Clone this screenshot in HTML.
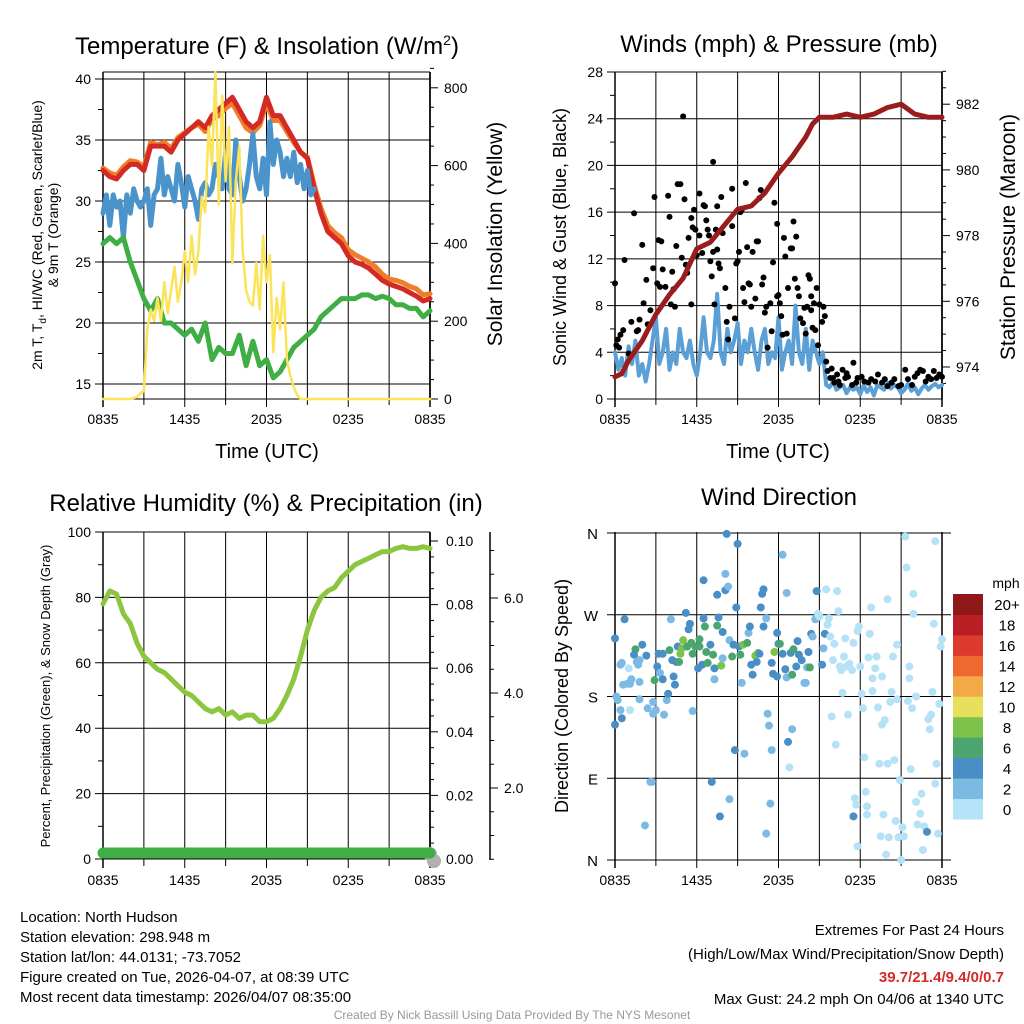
<!DOCTYPE html>
<html><head><meta charset="utf-8"><style>
html,body{margin:0;padding:0;background:#fff}
svg{display:block;font-family:"Liberation Sans",Arial,sans-serif}
</style></head><body>
<svg id="chart" width="1024" height="1024" viewBox="0 0 1024 1024" xmlns="http://www.w3.org/2000/svg">
<rect x="0" y="0" width="1024" height="1024" fill="#fff"/>
<text x="267" y="54" font-size="24" text-anchor="middle">Temperature (F) &amp; Insolation (W/m<tspan dy="-9" font-size="14">2</tspan><tspan dy="9">)</tspan></text>
<text x="779" y="52" font-size="24" text-anchor="middle">Winds (mph) &amp; Pressure (mb)</text>
<text x="266" y="511" font-size="24" text-anchor="middle">Relative Humidity (%) &amp; Precipitation (in)</text>
<text x="779" y="505" font-size="24" text-anchor="middle">Wind Direction</text>
<text x="267" y="458" font-size="20" text-anchor="middle">Time (UTC)</text>
<text x="778" y="458" font-size="20" text-anchor="middle">Time (UTC)</text>
<text transform="translate(42,235) rotate(-90)" font-size="14" text-anchor="middle">2m T, T<tspan dy="4" font-size="10">d</tspan><tspan dy="-4">, HI/WC (Red, Green, Scarlet/Blue)</tspan></text>
<text transform="translate(58,235) rotate(-90)" font-size="14" text-anchor="middle">&amp; 9m T (Orange)</text>
<text transform="translate(502,234) rotate(-90)" font-size="21" text-anchor="middle">Solar Insolation (Yellow)</text>
<text transform="translate(566,237) rotate(-90)" font-size="18" text-anchor="middle">Sonic Wind &amp; Gust (Blue, Black)</text>
<text transform="translate(1015,237) rotate(-90)" font-size="21" text-anchor="middle">Station Pressure (Maroon)</text>
<text transform="translate(50,696) rotate(-90)" font-size="13" text-anchor="middle">Percent, Precipitation (Green), &amp; Snow Depth (Gray)</text>
<text transform="translate(568,696) rotate(-90)" font-size="18" text-anchor="middle">Direction (Colored By Speed)</text>
<g font-size="15">
<text x="20" y="922">Location: North Hudson</text>
<text x="20" y="942">Station elevation: 298.948 m</text>
<text x="20" y="962">Station lat/lon: 44.0131; -73.7052</text>
<text x="20" y="982">Figure created on Tue, 2026-04-07, at 08:39 UTC</text>
<text x="20" y="1002">Most recent data timestamp: 2026/04/07 08:35:00</text>
</g>
<g font-size="15" text-anchor="end">
<text x="1004" y="935">Extremes For Past 24 Hours</text>
<text x="1004" y="959">(High/Low/Max Wind/Precipitation/Snow Depth)</text>
<text x="1004" y="982" fill="#d42a2a" font-weight="bold">39.7/21.4/9.4/0/0.7</text>
<text x="1004" y="1004">Max Gust: 24.2 mph On 04/06 at 1340 UTC</text>
</g>
<text x="512" y="1019" font-size="12" fill="#999" text-anchor="middle">Created By Nick Bassill Using Data Provided By The NYS Mesonet</text>
</svg>
<script>
// ---------- data ----------
const timeTickLabels = ["0835","1435","2035","0235","0835"];
const tempTicks = [15,20,25,30,35,40];
const solarTicks = [0,200,400,600,800];
const windTicks = [0,4,8,12,16,20,24,28];
const pressTicks = [974,976,978,980,982];
const rhTicks = [0,20,40,60,80,100];
const precipTicks = [0,0.02,0.04,0.06,0.08,0.10];
const snowTicks = [2,4,6];
const dirTicks = [0,90,180,270,360];
const dirTickLabels = ["N","E","S","W","N"];

const tempHalfHours = [32.5,32,31.8,32.5,33,33,32.5,34.5,34.5,34.5,34,35,35.5,36,36.5,36,37,37.5,38,38.5,37.5,36.5,36,36.5,38.5,37,37,36,35,34,33.5,31,29,27.5,27,26.5,25.5,25,24.8,24.5,24,23.5,23.2,23,22.8,22.5,22.2,21.8,22];
const temp9mHalfHours = [32.7,32.3,32.1,32.8,33.3,33.2,32.8,34.8,34.6,34.8,34.3,35.2,35.6,36,36.3,35.7,36.7,37,37.6,38,37,36,35.6,36.2,38,36.6,36.6,35.7,34.8,34,33.6,31.3,29.4,28,27.4,27,26,25.6,25.3,25,24.6,24,23.6,23.5,23.3,23,22.8,22.3,22.4];
const dewHalfHours = [26.5,27,26.5,27,25,23.5,22,21,22,20,20,19.5,19,19.5,18.5,20,17,18,17.5,17.5,19,16.5,18.5,16.5,17,15.5,16,17,18,18.5,19,19.5,20.5,21,21.5,22,22,22,22.3,22.3,22,22.2,22,21.5,21.5,21.2,21.2,20.5,21];
const hiwcQuarter = [29,30.5,28,30.5,29.5,30,27,30.5,29,31,30,29.5,30,31,28,30.5,31,33.5,30.5,32,31,30,33,31.5,29.5,32,31,30,28.5,31,31.5,30.5,31,33,32,31,34,31,30.5,35,32,30,31,33,35.5,32,31,33.5,30.5,36.5,33,35,34,32,33.5,32,34,31.5,33,31,32.5,30.5,31];
const solarTimes = [0,2,2.5,2.75,3,3.25,3.5,3.75,4,4.25,4.5,4.75,5,5.25,5.5,5.75,6,6.25,6.5,6.75,7,7.25,7.5,7.75,8,8.25,8.5,8.75,9,9.25,9.5,9.75,10,10.25,10.5,10.75,11,11.25,11.5,11.75,12,12.25,12.5,12.75,13,13.25,13.5,13.75,14,14.25,14.5,24];
const solarValues = [0,0,5,15,20,180,230,200,260,200,300,220,280,340,250,300,380,300,420,320,380,520,480,700,600,840,500,780,560,700,350,560,650,380,280,250,240,350,230,420,300,370,120,260,180,300,100,60,30,10,0,0];

const windQuarter = [4,2.5,3.5,2,4.5,3,5,2,3,1.5,3,5,7,3,4,6,2.5,4,3,6,4,3.5,5,3,2,4,7,4,3.5,5,9,4,3,6,4,5,6.5,3,5,4,6,4,2.5,5,6,3,4,3.5,7,2.5,4,5,3,8,4,3,6,2.5,5,4,3,4,1.2,1,1.5,0.8,1,1.2,0.5,1,0.8,1,0.4,1.2,0.6,1,0.3,1.2,1,0.8,1.4,0.9,1.2,1,0.5,0.8,1.3,0.7,1,0.4,0.9,1.2,0.8,1.1,1.3,1,1.2];
const pressTimes = [0,0.5,1,2,3,4,5,6,7,8,9,10,11,12,13,14,14.5,15,15.5,16,17,18,19,20,21,22,23,24];
const pressValues = [973.7,973.8,974.2,974.8,975.6,976.2,976.7,977.6,977.8,978.3,978.8,978.9,979.3,979.9,980.4,981.0,981.4,981.6,981.6,981.6,981.7,981.6,981.7,981.9,982,981.7,981.6,981.6];
const gustTimes = [0,0.1,0.2,0.3,0.4,0.6,0.7,1.0,1.2,1.4,1.6,1.7,1.8,2.0,2.1,2.3,2.4,2.6,2.8,2.9,3.1,3.2,3.3,3.4,3.5,3.7,3.9,4.0,4.1,4.2,4.3,4.4,4.5,4.6,4.8,4.9,5.0,5.1,5.2,5.3,5.4,5.6,5.6,5.7,5.8,5.9,6.0,6.2,6.2,6.4,6.5,6.6,6.7,6.8,6.9,7.0,7.1,7.2,7.2,7.3,7.4,7.5,7.5,7.6,7.7,7.8,7.9,8.1,8.2,8.3,8.4,8.6,8.6,8.8,8.9,9.0,9.1,9.2,9.3,9.4,9.5,9.6,9.7,9.8,9.9,10.0,10.1,10.3,10.4,10.5,10.6,10.7,10.8,10.9,11.0,11.1,11.2,11.4,11.5,11.6,11.7,11.9,11.9,12.0,12.1,12.2,12.3,12.4,12.5,12.6,12.7,12.9,13.0,13.1,13.2,13.3,13.4,13.5,13.6,13.8,13.9,14.0,14.1,14.2,14.3,14.4,14.4,14.5,14.6,14.7,14.8,14.9,15.0,15.2,15.3,15.4,15.5,15.6,15.8,15.9,16.0,16.1,16.3,16.4,16.5,16.7,16.9,17.0,17.1,17.4,17.5,17.7,17.8,18.1,18.3,18.6,18.8,19.1,19.3,19.6,19.8,20.0,20.3,20.5,20.8,21.0,21.3,21.5,21.8,22.0,22.2,22.4,22.6,22.8,23.0,23.2,23.4,23.6,23.8,24.0];
const gustValues = [9.9,4.6,5.1,4.4,5.5,5.9,11.9,3.9,6.6,15.9,5.8,5.9,6.8,13.2,8.2,10.2,6.4,7.6,11.2,17.3,9.9,13.6,9.6,13.5,11.1,9.6,17.4,15.6,8.1,10.9,9.4,7.9,13.1,18.4,18.4,12.1,24.2,17.1,11.5,10.8,13.8,15.5,8.1,14.7,16.2,14.5,12.3,14.0,17.6,12.5,16.6,16.5,15.3,14.5,14.0,11.8,10.5,20.3,12.6,8.1,14.5,16.5,12.8,11.6,11.2,17.3,14.2,9.5,6.6,5.1,7.9,14.8,18.0,6.9,11.6,11.8,12.6,16.0,16.2,9.5,8.3,18.5,13.0,9.9,9.8,7.9,12.6,8.6,13.5,13.5,17.2,17.9,9.8,10.4,7.4,7.9,4.4,8.2,5.8,11.7,16.8,15.0,8.8,8.9,8.2,7.1,5.5,13.8,12.2,5.6,9.5,12.9,12.9,15.2,10.3,13.9,9.5,8.8,6.9,6.5,7.8,5.6,7.9,10.6,10.3,8.8,7.6,6.1,8.2,5.9,9.5,4.6,8.1,6.6,7.9,7.1,3.2,2.4,1.8,2.6,1.8,1.4,2.1,1.5,1.2,2.5,1.8,2.2,1.9,1.2,3.1,1.4,1.8,1.9,1.5,1.4,1.7,1.5,2.1,1.4,1.7,1.1,1.4,1.7,1.1,1.2,2.5,1.7,1.2,1.9,2.2,2.5,2.4,1.5,1.9,1.7,2.4,1.8,2.1,1.9];

const rhHalfHours = [78,82,81,75,72,66,62,60,58,57,55,53,51,50,48,46,45,46,44,45,43,44,44,42,42,43,46,50,55,62,70,76,80,82,83,86,88,90,91,92,93,94,94,95,95.5,95,95,95.5,95];
const precipHalfHours = [0,0,0,0,0,0,0,0,0,0,0,0,0,0,0,0,0,0,0,0,0,0,0,0,0,0,0,0,0,0,0,0,0,0,0,0,0,0,0,0,0,0,0,0,0,0,0,0,0];
const snowTimes = [23.7,24];
const snowValues = [0.7,0.4];

const dirTimes = [0,0,0.1,0.2,0.4,0.5,0.4,0.5,0.7,1.0,0.6,0.9,1.1,1.1,1.2,1.5,1.4,1.6,1.7,1.8,1.8,1.8,2.0,2.2,2.3,2.4,2.6,2.7,2.8,2.8,2.9,3.0,3.1,3.2,3.3,3.5,3.5,3.6,3.8,3.9,
4.0,4.1,4.2,4.3,4.4,4.5,4.6,4.7,4.8,4.9,5.0,5.2,5.3,5.4,5.5,5.6,5.7,5.7,5.9,6.1,6.2,6.2,6.4,6.5,6.5,6.6,6.7,6.8,7.0,7.1,7.2,7.3,7.3,7.5,7.5,7.6,7.7,7.8,7.9,7.9,
8.1,8.1,8.2,8.3,8.4,8.4,8.6,8.7,8.8,8.9,9.0,9.1,9.2,9.3,9.4,9.5,9.7,9.8,9.9,10.0,10.1,10.3,10.4,10.5,10.6,10.7,10.8,10.9,10.9,11.1,11.1,11.2,11.3,11.4,11.5,11.5,11.6,11.7,11.9,11.9,
12.0,12.1,12.3,12.3,12.5,12.6,12.6,12.7,12.8,12.9,13.0,13.0,13.1,13.3,13.4,13.5,13.7,13.9,14.0,14.1,14.2,14.3,14.4,14.5,14.7,14.8,14.9,15.0,15.2,15.3,15.4,
15.5,15.6,15.7,15.8,15.9,16.0,16.1,16.2,16.3,16.4,16.5,16.6,16.7,16.8,16.9,17.0,17.1,17.2,17.4,17.5,17.5,17.6,17.7,17.8,17.8,17.9,18.0,18.1,18.2,18.3,18.4,18.5,18.5,18.6,18.7,18.8,18.9,18.9,19.1,19.2,
19.3,19.4,19.5,19.6,19.6,19.7,19.8,19.9,20.0,20.0,20.1,20.2,20.3,20.4,20.5,20.6,20.7,20.7,20.8,20.9,21.0,21.1,21.2,21.3,21.4,21.5,21.6,21.6,21.7,21.8,21.9,21.9,22.1,22.1,22.2,22.4,22.5,22.6,22.7,22.9,
23.0,23.1,23.2,23.3,23.4,23.5,23.5,23.6,23.7,23.8,23.9,24.0];
const dirValues = [244,149,180,176,165,156,215,217,265,211,193,194,165,194,199,232,226,218,215,220,177,196,237,38,225,167,86,86,161,174,198,165,213,227,206,227,199,160,176,183,
231,265,220,202,193,218,235,218,227,233,242,272,235,254,260,239,164,227,235,211,243,235,215,266,308,257,229,217,237,86,226,199,211,258,292,267,48,214,251,222,
315,297,359,301,67,242,224,237,121,278,348,235,226,195,237,117,239,250,257,215,204,225,218,228,227,278,293,257,298,266,29,161,148,62,121,217,205,229,202,250,
238,238,336,227,210,201,294,130,102,228,204,144,232,213,241,226,220,195,195,212,229,212,249,246,265,296,271,268,215,233,249,
298,259,266,246,158,220,238,127,296,274,213,209,184,224,244,213,160,216,209,239,48,68,61,15,252,257,213,183,167,113,75,59,50,223,249,278,200,186,211,224,
168,106,26,149,202,50,154,6,287,106,25,174,185,224,110,43,177,237,25,88,0,36,26,356,322,175,200,213,100,167,293,271,180,64,39,51,73,11,37,31,
155,144,160,185,260,351,84,106,29,172,235,243];
const dirSpeeds = [5,5,3,3,3,5,3,3,5,1,3,3,1,3,3,7,5,3,3,3,3,3,5,3,5,3,3,3,3,3,7,3,5,5,3,5,5,3,3,5,
7,3,5,5,5,5,5,7,9,9,9,5,7,5,5,7,3,7,7,5,7,7,5,5,5,7,7,7,5,5,7,3,5,7,5,5,5,9,5,3,
3,5,5,3,3,3,7,5,5,5,5,5,7,3,9,3,7,3,5,5,5,9,5,9,5,5,5,5,5,3,3,3,3,3,3,5,5,9,5,5,
5,7,3,5,5,3,3,5,1,5,7,3,7,5,5,5,5,3,3,3,5,7,5,3,3,5,1,1,5,3,5,
1,1,1,1,1,1,1,1,1,1,1,1,1,1,1,1,1,1,1,1,5,1,1,1,1,1,1,1,1,1,1,1,1,1,1,1,1,1,1,1,
1,1,1,1,1,1,1,1,1,1,1,1,1,1,1,1,1,1,1,1,1,1,1,1,1,1,1,1,1,1,1,1,1,1,1,1,1,1,1,5,
1,1,1,1,1,1,1,1,1,1,1,1];
const speedBinLabels = ["0","2","4","6","8","10","12","14","16","18","20+"];
const speedBinColors = ["#b5e2f7","#7cbae4","#4a8ec6","#4aa56e","#7dc24b","#e6e05c","#f4a948","#ee682f","#dc3a2c","#b81e24","#8e1818"];

// ---------- helpers ----------
const NS = "http://www.w3.org/2000/svg";
const svg = document.getElementById('chart');
function mk(tag, attrs, parent){
  const e = document.createElementNS(NS, tag);
  for (const k in attrs) e.setAttribute(k, attrs[k]);
  (parent || svg).appendChild(e);
  return e;
}
function grp(name){
  const g = mk('g', {});
  
  
  return g;
}
const LX0 = 103, RX0 = 615, PW = 327;
const xL = h => LX0 + h * PW / 24;
const xR = h => RX0 + h * PW / 24;
const yTemp = v => 384 - (v - 15) * 12.2;
const ySolar = v => 399 - v * 0.389;
const yWind = v => 399 - v * 327 / 28;
const yPress = v => 367 - (v - 974) * 32.85;
const yRH = v => 859 - v * 3.27;
const yPrecip = v => 859 - v * 3180;
const ySnow = v => 883 - v * 47.5;
const yDir = d => 860 - d * 327 / 360;

function line(g, x1, y1, x2, y2, stroke, w){
  return mk('line', {x1:x1, y1:y1, x2:x2, y2:y2, stroke:stroke, 'stroke-width':w}, g);
}
function txt(g, x, y, s, size, anchor){
  const t = mk('text', {x:x, y:y, 'font-size':size, 'text-anchor':anchor}, g);
  t.textContent = s;
  return t;
}
function polyline(g, xs, ys, color, w){
  let d = '';
  for (let i = 0; i < xs.length; i++) d += (i ? ' L' : 'M') + xs[i].toFixed(1) + ' ' + ys[i].toFixed(1);
  return mk('path', {d:d, fill:'none', stroke:color, 'stroke-width':w, 'stroke-linejoin':'round', 'stroke-linecap':'round'}, g);
}
function timeAxis(g, x0, top, bottom){
  for (let k = 0; k <= 8; k++) {
    const x = x0 + k * PW / 8;
    line(g, x, top, x, bottom + (k % 2 === 0 ? 8 : 6), '#000', k === 0 || k === 8 ? 1.5 : 1);
  }
  timeTickLabels.forEach((s, i) => {
    const t = txt(g, x0 + i * PW / 4, bottom + 25, s, 14, 'middle');
    
    
  });
}

// ---------- Panel 1: Temperature ----------
(function(){
  const g = grp('temperature-panel');
  const grid = grp('temperature-grid');
  g.appendChild(grid);
  line(grid, LX0, 72, LX0 + PW, 72, '#000', 1);
  tempTicks.forEach(v => {
    line(grid, LX0 - 8, yTemp(v), LX0 + PW, yTemp(v), '#000', 1);
    const t = txt(grid, LX0 - 12, yTemp(v) + 5, String(v), 14, 'end');
    
    
  });
  for (let v = 15; v <= 40; v += 2.5) line(grid, LX0 - 5, yTemp(v), LX0, yTemp(v), '#000', 1);
  timeAxis(grid, LX0, 72, 399);
  line(grid, LX0, 399, LX0 + PW, 399, '#000', 1);
  line(grid, LX0 + PW, 72, LX0 + PW, 399, '#000', 1.5);
  for (let v = 0; v <= 850; v += 50) line(grid, LX0 + PW, ySolar(v), LX0 + PW + (v % 200 === 0 ? 8 : 4), ySolar(v), '#000', 1);
  solarTicks.forEach(v => {
    const t = txt(grid, LX0 + PW + 14, ySolar(v) + 5, String(v), 14, 'start');
    
    
  });
  const hx = tempHalfHours.map((v, i) => xL(i * 0.5));
  const s1 = polyline(g, hx, temp9mHalfHours.map(yTemp), '#f07d2a', 5);
  
  
  const s2 = polyline(g, hx, tempHalfHours.map(yTemp), '#d42a25', 5);
  
  
  const s3 = polyline(g, hiwcQuarter.map((v, i) => xL(i * 0.25)), hiwcQuarter.map(yTemp), '#4b93cb', 5);
  
  
  const s4 = polyline(g, hx, dewHalfHours.map(yTemp), '#3fae44', 5);
  
  
  const s5 = polyline(g, solarTimes.map(xL), solarValues.map(ySolar), '#fbe35a', 2.5);
  
  
})();

// ---------- Panel 2: Winds ----------
(function(){
  const g = grp('winds-panel');
  const grid = grp('winds-grid');
  g.appendChild(grid);
  windTicks.forEach(v => {
    line(grid, RX0 - 8, yWind(v), RX0 + PW, yWind(v), '#000', 1);
    const t = txt(grid, RX0 - 12, yWind(v) + 5, String(v), 14, 'end');
    
    
  });
  for (let v = 2; v < 28; v += 4) line(grid, RX0 - 5, yWind(v), RX0, yWind(v), '#000', 1);
  timeAxis(grid, RX0, 72, 399);
  line(grid, RX0 + PW, 72, RX0 + PW, 399, '#000', 1.5);
  for (let v = 973.5; v <= 983; v += 0.5) line(grid, RX0 + PW, yPress(v), RX0 + PW + (v % 2 === 0 ? 8 : 4), yPress(v), '#000', 1);
  pressTicks.forEach(v => {
    const t = txt(grid, RX0 + PW + 14, yPress(v) + 5, String(v), 14, 'start');
    
    
  });
  const w = polyline(g, windQuarter.map((v, i) => xR(i * 0.25)), windQuarter.map(yWind), '#5a9fd6', 4);
  
  
  const gg = grp('gust-points');
  g.appendChild(gg);
  const n = Math.min(gustTimes.length, gustValues.length);
  for (let i = 0; i < n; i++) {
    const c = mk('circle', {cx:xR(gustTimes[i]), cy:yWind(gustValues[i]), r:3, fill:'#000'}, gg);
    
    
  }
  const p = polyline(g, pressTimes.map(xR), pressValues.map(yPress), '#9b1c1c', 5);
  
  
})();

// ---------- Panel 3: RH ----------
(function(){
  const g = grp('humidity-panel');
  const grid = grp('humidity-grid');
  g.appendChild(grid);
  line(grid, LX0, 532, LX0 + PW, 532, '#000', 1);
  rhTicks.forEach(v => {
    line(grid, LX0 - 8, yRH(v), LX0 + PW, yRH(v), '#000', 1);
    const t = txt(grid, LX0 - 12, yRH(v) + 5, String(v), 14, 'end');
    
    
  });
  for (let v = 10; v < 100; v += 20) line(grid, LX0 - 5, yRH(v), LX0, yRH(v), '#000', 1);
  timeAxis(grid, LX0, 532, 860);
  line(grid, LX0 + PW, 532, LX0 + PW, 860, '#000', 1.5);
  for (let k = 0; k <= 20; k++) {
    const v = k * 0.005;
    line(grid, LX0 + PW, yPrecip(v), LX0 + PW + (k % 4 === 0 ? 8 : 4), yPrecip(v), '#000', 1);
  }
  precipTicks.forEach(v => {
    const t = txt(grid, LX0 + PW + 16, yPrecip(v) + 5, v.toFixed(2), 14, 'start');
    
    
  });
  const ax = 490;
  line(grid, ax, 532, ax, 860, '#000', 1.5);
  for (let k = 0; k <= 14; k++) {
    const v = k * 0.5;
    const y = ySnow(v);
    if (y < 532 || y > 860) continue;
    line(grid, ax, y, ax + (k % 4 === 0 ? 8 : 4), y, '#000', 1);
  }
  snowTicks.forEach(v => {
    const t = txt(grid, ax + 14, ySnow(v) + 5, v.toFixed(1), 14, 'start');
    
    
  });
  const hx = rhHalfHours.map((v, i) => xL(i * 0.5));
  const r = polyline(g, hx, rhHalfHours.map(yRH), '#8cc63f', 5);
  
  
  snowTimes.forEach((h, i) => {
    const c = mk('circle', {cx:xL(h) + 4, cy:yPrecip(0) - 5 + i * 7, r:7, fill:'#b0b0b0'}, g);
    
    
  });
  const pr = polyline(g, hx, precipHalfHours.map(v => yPrecip(v) - 6), '#3fae44', 11);
  
  
})();

// ---------- Panel 4: Wind direction ----------
(function(){
  const g = grp('direction-panel');
  const grid = grp('direction-grid');
  g.appendChild(grid);
  dirTicks.forEach((v, i) => {
    line(grid, RX0 - 8, yDir(v), RX0 + PW + 9, yDir(v), '#000', 1);
    const t = txt(grid, RX0 - 17, yDir(v) + 6, dirTickLabels[i], 15, 'end');
    
    
  });
  timeAxis(grid, RX0, 532, 860);
  const pts = grp('direction-points');
  g.appendChild(pts);
  const n = Math.min(dirTimes.length, dirValues.length, dirSpeeds.length);
  for (let i = 0; i < n; i++) {
    const bin = Math.min(10, Math.floor(dirSpeeds[i] / 2));
    const c = mk('circle', {cx:xR(dirTimes[i]), cy:yDir(dirValues[i]), r:4, fill:speedBinColors[bin]}, pts);
    
    
  }
  const lg = grp('speed-colorbar');
  g.appendChild(lg);
  const bh = 225 / speedBinLabels.length;
  speedBinLabels.forEach((s, i) => {
    const y = 819 - (i + 1) * bh;
    const b = mk('rect', {x:953, y:y, width:30, height:bh + 0.5, fill:speedBinColors[i]}, lg);
    
    
    const t = txt(lg, 1007, y + bh / 2 + 6, s, 15, 'middle');
    
    
  });
  const u = txt(lg, 1006, 588, 'mph', 14, 'middle');
  
  
})();
</script>
</body></html>
